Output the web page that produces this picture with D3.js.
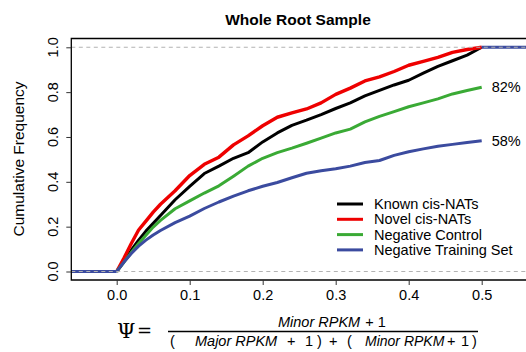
<!DOCTYPE html>
<html>
<head>
<meta charset="utf-8">
<script src="https://cdnjs.cloudflare.com/ajax/libs/d3/7.8.5/d3.min.js"></script>
<style>
  body { margin: 0; background: #fff; }
  svg { display: block; font-family: "Liberation Sans", Arial, sans-serif; }
</style>
</head>
<body>
<div id="chart"></div>
<script>
// Psi values where the curves were read
const psi = [0, 0.01, 0.02, 0.03, 0.04, 0.05, 0.06, 0.08, 0.10, 0.12, 0.14, 0.16, 0.18, 0.20,
  0.22, 0.24, 0.26, 0.28, 0.30, 0.32, 0.34, 0.36, 0.38, 0.40, 0.42, 0.44, 0.46, 0.48, 0.50];

const knownCisNATs = [0, 0.045, 0.095, 0.14, 0.18, 0.215, 0.25, 0.32, 0.38, 0.437, 0.47, 0.505, 0.53, 0.578,
  0.618, 0.652, 0.675, 0.70, 0.727, 0.752, 0.783, 0.808, 0.832, 0.853, 0.885, 0.915, 0.94, 0.965, 1.0];
const novelCisNATs = [0, 0.06, 0.125, 0.185, 0.225, 0.265, 0.30, 0.36, 0.428, 0.478, 0.51, 0.565, 0.605, 0.65,
  0.688, 0.707, 0.725, 0.752, 0.79, 0.818, 0.85, 0.868, 0.892, 0.92, 0.937, 0.955, 0.977, 0.99, 1.0];
const negativeControl = [0, 0.042, 0.085, 0.125, 0.162, 0.198, 0.228, 0.28, 0.315, 0.35, 0.382, 0.425, 0.47, 0.505,
  0.53, 0.55, 0.572, 0.595, 0.618, 0.635, 0.667, 0.692, 0.713, 0.735, 0.752, 0.77, 0.792, 0.807, 0.822];
const negativeTraining = [0, 0.042, 0.08, 0.113, 0.14, 0.163, 0.183, 0.218, 0.247, 0.281, 0.31, 0.336, 0.36, 0.38,
  0.397, 0.418, 0.438, 0.449, 0.458, 0.47, 0.486, 0.495, 0.518, 0.534, 0.547, 0.559, 0.567, 0.575, 0.583];

const seriesNames = ["Known cis-NATs", "Novel cis-NATs", "Negative Control", "Negative Training Set"];
const seriesValues = [knownCisNATs, novelCisNATs, negativeControl, negativeTraining];
const seriesColors = ["#000000", "#ee0000", "#3aaa35", "#3b4b9f"];

const xTicks = [0, 0.1, 0.2, 0.3, 0.4, 0.5];
const yTicks = [0, 0.2, 0.4, 0.6, 0.8, 1.0];
const endLabels = ["82%", "58%"];

const width = 526, height = 352;
const svg = d3.select("#chart").append("svg")
  .attr("width", width).attr("height", height);

const x = d3.scaleLinear().domain([0, 0.5]).range([116.7, 481.7]);
const y = d3.scaleLinear().domain([0, 1]).range([271.5, 47.3]);

const boxLeft = 71.3, boxTop = 38.5, boxBottom = 280;
const xMin = x.invert(boxLeft), xMax = x.invert(width + 5);

// title
svg.append("text")
  .attr("x", 298).attr("y", 25)
  .attr("text-anchor", "middle")
  .attr("font-weight", "bold").attr("font-size", 15.5)
  .text("Whole Root Sample");

// y axis title
svg.append("text")
  .attr("transform", "translate(24,159) rotate(-90)")
  .attr("text-anchor", "middle").attr("font-size", 15.5)
  .text("Cumulative Frequency");

// curves
const line = d3.line()
  .x((d, i) => x(psi[i]))
  .y(d => y(d));

seriesValues.forEach((vals, k) => {
  svg.append("path")
    .datum(vals)
    .attr("d", line)
    .attr("fill", "none")
    .attr("stroke", seriesColors[k])
    .attr("stroke-width", k === 1 ? 3.4 : 3)
    .attr("stroke-linejoin", "round");
});

// flat ends of the ecdf
const flat = d3.line().x(d => x(d[0])).y(d => y(d[1]));
svg.append("path")
  .datum([[xMin, 0], [0, 0]])
  .attr("d", flat)
  .attr("stroke", seriesColors[3]).attr("stroke-width", 3).attr("fill", "none");
svg.append("path")
  .datum([[0.5, 1], [xMax, 1]])
  .attr("d", flat)
  .attr("stroke", seriesColors[3]).attr("stroke-width", 3).attr("fill", "none");

// dashed reference lines at 0 and 1
svg.selectAll("line.ref")
  .data([0, 1])
  .enter().append("line")
  .attr("class", "ref")
  .attr("x1", boxLeft).attr("x2", width)
  .attr("y1", d => y(d)).attr("y2", d => y(d))
  .attr("stroke", "#b3b3b3").attr("stroke-width", 1.1)
  .attr("stroke-dasharray", "4,3.5");

// box (right side runs off the picture)
svg.append("path")
  .attr("d", `M${width + 5},${boxTop}H${boxLeft}V${boxBottom}H${width + 5}`)
  .attr("fill", "none").attr("stroke", "#000").attr("stroke-width", 1.3);

// x axis
const xAxis = svg.append("g")
  .attr("transform", `translate(0,${boxBottom})`)
  .call(d3.axisBottom(x).tickValues(xTicks).tickSize(5).tickPadding(5).tickFormat(d3.format(".1f")));
xAxis.select(".domain").remove();
xAxis.selectAll("line").attr("stroke", "#333");
xAxis.selectAll("text").attr("font-size", 14.5).attr("font-family", "Liberation Sans, Arial, sans-serif").attr("fill", "#000");

// y axis, labels rotated like R
const yAxis = svg.append("g")
  .attr("transform", `translate(${boxLeft},0)`)
  .call(d3.axisLeft(y).tickValues(yTicks).tickSize(5).tickFormat(""));
yAxis.select(".domain").remove();
yAxis.selectAll("line").attr("stroke", "#333");
svg.selectAll("text.ytick")
  .data(yTicks)
  .enter().append("text")
  .attr("class", "ytick")
  .attr("transform", d => `translate(58,${y(d)}) rotate(-90)`)
  .attr("text-anchor", "middle").attr("font-size", 14.5)
  .text(d3.format(".1f"));

// end labels
[negativeControl, negativeTraining].forEach((vals, k) => {
  svg.append("text")
    .attr("x", x(0.5) + 10).attr("y", y(vals[vals.length - 1]) + 5)
    .attr("font-size", 14.5)
    .text(endLabels[k]);
});

// legend
const legend = svg.append("g");
seriesNames.forEach((name, k) => {
  const ly = 204 + k * 15.3;
  legend.append("line")
    .attr("x1", 337).attr("x2", 363).attr("y1", ly).attr("y2", ly)
    .attr("stroke", seriesColors[k]).attr("stroke-width", 3);
  legend.append("text")
    .attr("x", 374).attr("y", ly + 5)
    .attr("font-size", 14.5)
    .text(name);
});

// formula under the x axis
const fx = svg.append("g").attr("font-size", 14.5);
fx.append("text").attr("x", 117).attr("y", 338)
  .attr("font-family", "DejaVu Serif, serif").attr("font-size", 21).text("Ψ");
fx.append("text").attr("x", 137).attr("y", 337)
  .attr("font-family", "DejaVu Serif, serif").attr("font-size", 18).text("=");
fx.append("line").attr("x1", 168).attr("x2", 478).attr("y1", 331.5).attr("y2", 331.5)
  .attr("stroke", "#000").attr("stroke-width", 1.4);
const num = fx.append("text").attr("x", 278).attr("y", 327);
num.append("tspan").attr("font-style", "italic").text("Minor RPKM");
num.append("tspan").attr("dx", 5).text("+ 1");
const den = fx.append("text").attr("y", 346);
den.append("tspan").attr("x", 170).text("(");
den.append("tspan").attr("x", 195).attr("font-style", "italic").text("Major RPKM");
den.append("tspan").attr("x", 287).text("+");
den.append("tspan").attr("x", 305).text("1");
den.append("tspan").attr("x", 317).text(")");
den.append("tspan").attr("x", 329).text("+");
den.append("tspan").attr("x", 347).text("(");
den.append("tspan").attr("x", 365).attr("font-style", "italic").attr("font-size", 14).text("Minor RPKM");
den.append("tspan").attr("x", 447).text("+");
den.append("tspan").attr("x", 461).text("1");
den.append("tspan").attr("x", 472).text(")");
</script>
</body>
</html>
